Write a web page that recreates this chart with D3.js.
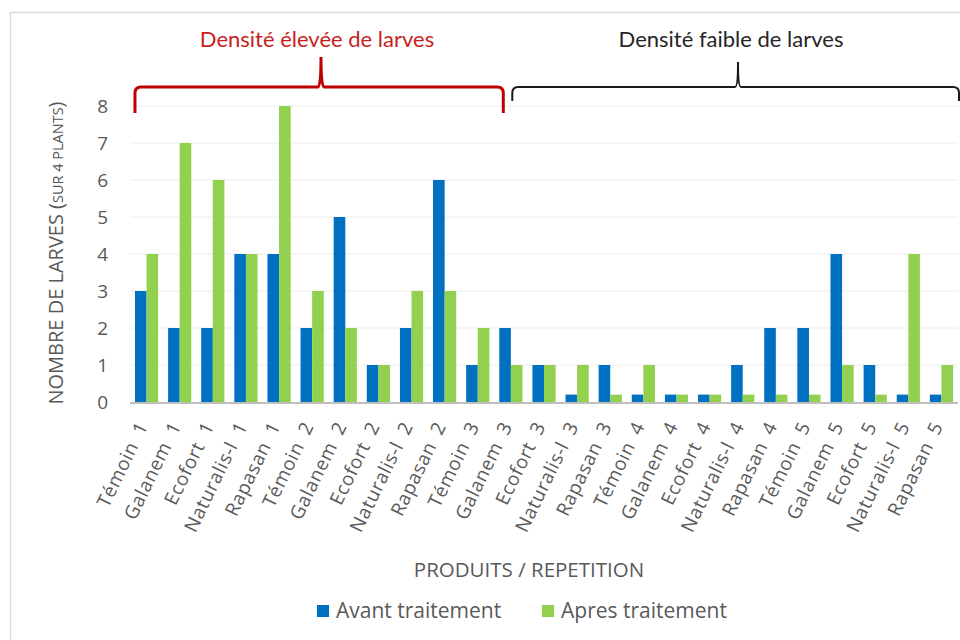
<!DOCTYPE html>
<html>
<head>
<meta charset="utf-8">
<script src="https://cdn.jsdelivr.net/npm/d3@7"></script>
<style>
  body { margin: 0; background: #fff; }
  svg text { font-family: "Open Sans", sans-serif; fill: #595959; }
</style>
</head>
<body>
<div id="chart"></div>
<script>
// categories (product + repetition)
const categories = [
  'Témoin 1', 'Galanem 1', 'Ecofort 1', 'Naturalis-l 1', 'Rapasan 1',
  'Témoin 2', 'Galanem 2', 'Ecofort 2', 'Naturalis-l 2', 'Rapasan 2',
  'Témoin 3', 'Galanem 3', 'Ecofort 3', 'Naturalis-l 3', 'Rapasan 3',
  'Témoin 4', 'Galanem 4', 'Ecofort 4', 'Naturalis-l 4', 'Rapasan 4',
  'Témoin 5', 'Galanem 5', 'Ecofort 5', 'Naturalis-l 5', 'Rapasan 5'
];
const avant = [3, 2, 2, 4, 4, 2, 5, 1, 2, 6, 1, 2, 1, 0.2, 1, 0.2, 0.2, 0.2, 1, 2, 2, 4, 1, 0.2, 0.2];
const apres = [4, 7, 6, 4, 8, 3, 2, 1, 3, 3, 2, 1, 1, 1, 0.2, 1, 0.2, 0.2, 0.2, 0.2, 0.2, 1, 0.2, 4, 1];
const seriesNames = ['Avant traitement', 'Apres traitement'];
const yTicks = [0, 1, 2, 3, 4, 5, 6, 7, 8];
const colors = ['#0070C0', '#92D050'];

const width = 960, height = 640;
const svg = d3.select('#chart').append('svg')
  .attr('width', width)
  .attr('height', height);

// frame
svg.append('path')
  .attr('d', 'M10.5,' + height + 'V12.5H' + width)
  .attr('fill', 'none')
  .attr('stroke', '#d9d9d9')
  .attr('stroke-width', 1.5);

const plotLeft = 130, plotRight = 958, plotTop = 106, plotBottom = 402;

const x0 = d3.scaleBand()
  .domain(categories)
  .range([plotLeft, plotRight])
  .paddingInner(0.3)
  .paddingOuter(0.15);

const x1 = d3.scaleBand()
  .domain([0, 1])
  .range([0, x0.bandwidth()]);

const y = d3.scaleLinear()
  .domain([0, 8])
  .range([plotBottom, plotTop]);

// grid
svg.append('g')
  .selectAll('line')
  .data(yTicks.filter(d => d > 0))
  .enter()
  .append('line')
  .attr('x1', plotLeft)
  .attr('x2', plotRight)
  .attr('y1', d => y(d))
  .attr('y2', d => y(d))
  .attr('stroke', '#ececec')
  .attr('stroke-width', 1);

// bars
const groups = svg.append('g')
  .selectAll('g')
  .data(categories)
  .enter()
  .append('g')
  .attr('transform', d => `translate(${x0(d)},0)`);

groups.selectAll('rect')
  .data((d, i) => [avant[i], apres[i]])
  .enter()
  .append('rect')
  .attr('x', (d, j) => x1(j))
  .attr('y', d => y(d))
  .attr('width', x1.bandwidth())
  .attr('height', d => y(0) - y(d))
  .attr('fill', (d, j) => colors[j]);

// x axis line
svg.append('line')
  .attr('x1', plotLeft)
  .attr('x2', plotRight)
  .attr('y1', plotBottom + 1)
  .attr('y2', plotBottom + 1)
  .attr('stroke', '#bfbfbf')
  .attr('stroke-width', 2);

// y tick labels
svg.append('g')
  .selectAll('text')
  .data(yTicks)
  .enter()
  .append('text')
  .attr('x', 108)
  .attr('y', d => y(d) + 7)
  .attr('text-anchor', 'end')
  .attr('font-size', 19)
  .text(d => d);

// x tick labels
svg.append('g')
  .selectAll('text')
  .data(categories)
  .enter()
  .append('text')
  .attr('text-anchor', 'end')
  .attr('font-size', 19)
  .attr('letter-spacing', 0.6)
  .attr('word-spacing', 5)
  .attr('transform', d => `translate(${x0(d) + x0.bandwidth() / 2 + 2},${plotBottom + 24}) rotate(-64)`)
  .text(d => d);

// y title
const yTitle = svg.append('text')
  .attr('transform', 'translate(63,253) rotate(-90)')
  .attr('text-anchor', 'middle')
  .attr('font-size', 20);
yTitle.append('tspan').text('NOMBRE DE LARVES (');
yTitle.append('tspan').attr('font-size', 14.5).text('SUR 4 PLANTS');
yTitle.append('tspan').text(')');

// x title
svg.append('text')
  .attr('x', 529)
  .attr('y', 577)
  .attr('text-anchor', 'middle')
  .attr('font-size', 20.5)
  .text('PRODUITS / REPETITION');

// legend
const legend = svg.append('g')
  .selectAll('g')
  .data(seriesNames)
  .enter()
  .append('g')
  .attr('transform', (d, i) => `translate(${317 + i * 225},605)`);
legend.append('rect')
  .attr('width', 12)
  .attr('height', 12)
  .attr('fill', (d, i) => colors[i]);
legend.append('text')
  .attr('x', 19)
  .attr('y', 13)
  .attr('font-size', 21)
  .text(d => d);

// braces
function brace(xa, xb, yb, yEnd, xm, yTip) {
  const r = 6;
  return `M${xa},${yEnd} V${yb + r} Q${xa},${yb} ${xa + r},${yb}` +
    ` H${xm - 3} Q${xm},${yb} ${xm},${yTip} Q${xm},${yb} ${xm + 3},${yb}` +
    ` H${xb - r} Q${xb},${yb} ${xb},${yb + r} V${yEnd}`;
}

const redStart = x0(categories[0]);
const redEnd = x0(categories[11]) + 4;
const blackStart = x0(categories[11]) + 13;
const blackEnd = plotRight + 1;

svg.append('path')
  .attr('d', brace(redStart, redEnd, 87, 113, 321, 57))
  .attr('fill', 'none')
  .attr('stroke', '#C00000')
  .attr('stroke-width', 3);

svg.append('path')
  .attr('d', brace(blackStart, blackEnd, 87, 101, 738, 62))
  .attr('fill', 'none')
  .attr('stroke', '#1a1a1a')
  .attr('stroke-width', 2);

svg.append('text')
  .attr('x', 317)
  .attr('y', 47)
  .attr('text-anchor', 'middle')
  .attr('font-size', 22)
  .style('font-family', 'Lato, sans-serif')
  .style('fill', '#C81E1E')
  .text('Densité élevée de larves');

svg.append('text')
  .attr('x', 731)
  .attr('y', 47)
  .attr('text-anchor', 'middle')
  .attr('font-size', 22)
  .style('font-family', 'Lato, sans-serif')
  .style('fill', '#262626')
  .text('Densité faible de larves');
</script>
</body>
</html>
